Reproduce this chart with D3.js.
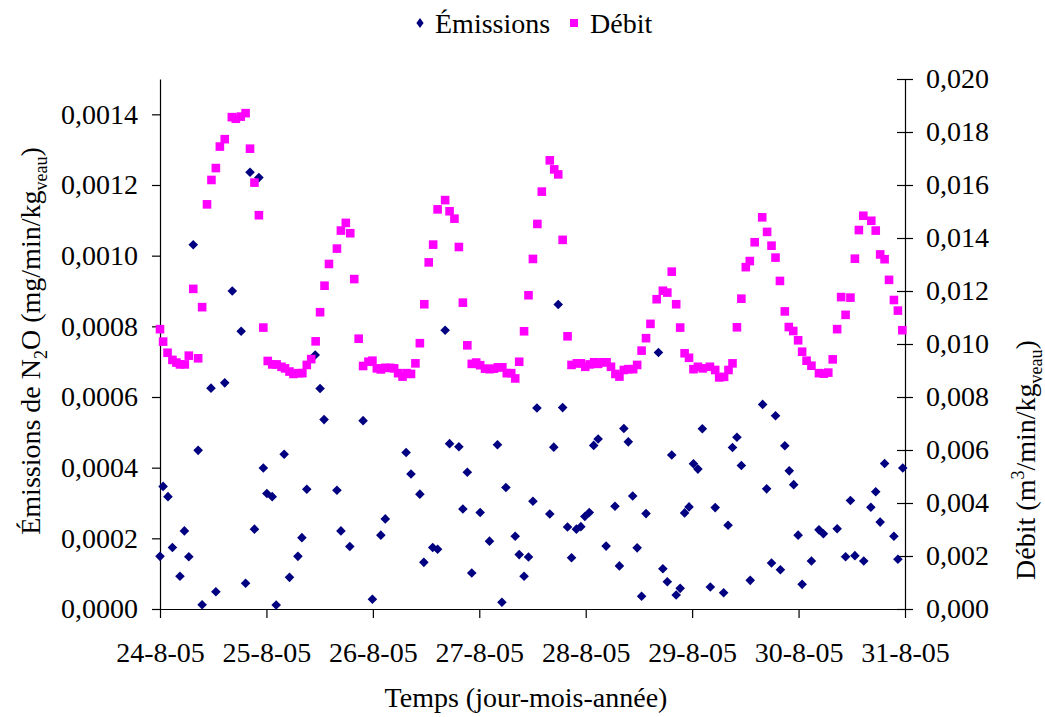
<!DOCTYPE html>
<html>
<head>
<meta charset="utf-8">
<script src="https://cdn.jsdelivr.net/npm/d3@7"></script>
<style>
  html, body { margin: 0; padding: 0; background: #fff; }
  svg { display: block; font-family: "Liberation Serif", "Times New Roman", serif; }
</style>
</head>
<body>
<svg id="chart" width="1045" height="717"></svg>
<script>
// ---- Data (hours since 24-8-05 00:00, value) ----
const emissionsHours = [0,0.7,1.8,2.8,4.5,5.5,6.5,7.5,8.6,9.5,11.5,12.6,14.6,16.3,18.3,19.3,20.3,21.3,22.3,23.3,
  24.1,25.3,26.2,28.0,29.2,31.1,32.0,33.1,35.0,36.1,37.0,39.9,40.8,42.8,45.8,47.9,49.8,50.8,55.5,56.6,
  58.6,59.5,61.5,62.6,64.3,65.3,67.4,68.3,69.3,70.3,72.2,74.3,76.1,77.1,78.0,80.1,81.0,82.1,83.1,84.1,
  85.0,87.9,88.8,89.8,90.8,91.9,92.8,93.9,94.9,95.8,96.8,97.8,98.8,100.6,102.6,103.6,104.6,105.6,106.6,107.6,
  108.6,109.6,112.4,113.4,114.4,115.4,116.4,117.3,118.3,119.3,120.3,121.3,122.3,124.1,125.2,127.1,128.1,129.1,130.1,131.1,
  133.1,135.9,136.8,137.9,138.8,139.9,140.9,141.9,142.9,143.9,144.8,146.9,148.6,149.6,152.7,154.6,155.7,156.7,158.7,160.3,
  161.4,162.4,163.4,165.5,166.4,167.5];
const emissionsValues = [0.000149,0.000347,0.000318,0.000174,0.0000925,0.000221,0.000148,0.001031,0.000449,0.0000122,0.000625,0.000049,0.00064,0.0009,0.000786,0.0000727,0.001236,0.000226,0.001221,0.000399,
  0.000327,0.000318,0.0000113,0.000438,0.0000896,0.000149,0.000202,0.000339,0.000719,0.000624,0.000536,0.000336,0.000221,0.000177,0.000533,0.0000274,0.000209,0.000255,0.000443,0.000382,
  0.000325,0.000132,0.000174,0.000169,0.000789,0.000468,0.000459,0.000283,0.000387,0.000102,0.000273,0.000192,0.000465,0.0000189,0.000344,0.000206,0.000154,0.0000925,0.000147,0.000305,
  0.000569,0.000269,0.000458,0.000862,0.00057,0.000232,0.000145,0.000226,0.000233,0.000262,0.000273,0.000463,0.000481,0.000178,0.000291,0.000122,0.000511,0.000473,0.00032,0.000173,
  0.0000359,0.00027,0.000726,0.000114,0.0000773,0.000436,0.0000396,0.0000585,0.000272,0.000289,0.000411,0.000396,0.00051,0.0000622,0.000287,0.0000462,0.000237,0.000457,0.000486,0.000406,
  0.0000811,0.000579,0.00034,0.00013,0.000547,0.000111,0.000462,0.000391,0.000352,0.000209,0.0000698,0.000136,0.000224,0.000213,0.000227,0.000148,0.000307,0.000151,0.000136,0.000288,
  0.000332,0.000246,0.000412,0.000206,0.000141,0.000399];

const debitHours = [0,0.7,1.7,2.8,3.7,4.5,5.6,6.5,7.5,8.6,9.5,10.6,11.6,12.6,13.5,14.6,16.2,17.1,18.2,19.3,
  20.3,21.3,22.3,23.3,24.3,25.3,26.3,27.4,28.2,29.2,30.1,31.2,32.1,33.1,34.1,35.1,36.1,37.1,38.1,39.9,
  40.8,41.9,42.9,43.8,44.8,45.8,47.0,47.9,48.9,49.8,50.8,51.9,52.8,53.7,54.7,55.6,56.6,57.6,58.6,59.6,
  60.6,61.6,62.6,64.3,65.3,66.4,67.4,68.3,69.3,70.3,71.3,72.2,73.3,74.3,75.3,76.2,77.2,78.2,79.2,80.1,
  81.0,82.1,83.1,84.1,85.1,86.1,87.9,88.9,89.8,90.8,91.9,92.8,94.0,94.9,95.9,96.9,97.9,98.8,99.8,100.7,
  101.7,102.7,103.6,104.6,105.6,106.7,107.6,108.6,109.6,110.6,112.0,113.4,114.4,115.4,116.4,117.3,118.3,119.3,120.3,121.3,
  122.4,124.0,125.2,126.1,127.2,128.2,129.1,130.1,131.1,132.1,133.0,134.1,135.8,136.9,137.9,138.8,139.8,140.9,141.8,142.8,
  143.9,144.8,145.8,146.9,148.6,149.7,150.7,151.7,152.7,153.6,154.6,155.7,156.7,157.6,158.6,160.4,161.4,162.4,163.4,164.4,
  165.5,166.4,167.4];
const debitValues = [0.01056,0.01009,0.00967,0.0094,0.0093,0.00923,0.00923,0.00956,0.01208,0.00946,0.01139,0.01527,0.01619,0.01664,0.01745,0.01773,0.01856,0.0185,0.01858,0.01871,
  0.01737,0.01609,0.01486,0.01062,0.00936,0.00923,0.00923,0.00914,0.00908,0.00896,0.00887,0.0089,0.0089,0.00921,0.00943,0.0101,0.0112,0.0122,0.01302,0.0136,
  0.01428,0.01457,0.01418,0.01245,0.0102,0.00917,0.00933,0.00937,0.00908,0.00904,0.0091,0.0091,0.00908,0.0089,0.00877,0.0089,0.00887,0.00927,0.01003,0.0115,
  0.01308,0.01375,0.01508,0.01543,0.01501,0.01473,0.01366,0.01156,0.00995,0.00925,0.0093,0.0092,0.00907,0.00905,0.00907,0.00912,0.00912,0.0089,0.0089,0.0087,
  0.00933,0.01048,0.01184,0.01321,0.01453,0.01575,0.01693,0.01659,0.0164,0.01393,0.01029,0.00921,0.00927,0.00927,0.00914,0.00923,0.00931,0.00925,0.00931,0.00931,
  0.00914,0.00887,0.00877,0.00902,0.00905,0.00905,0.00921,0.00975,0.01022,0.01076,0.01169,0.01201,0.01194,0.01273,0.0115,0.01062,0.00965,0.00948,0.00905,0.00914,
  0.00908,0.00914,0.00902,0.00874,0.00876,0.00902,0.00927,0.01063,0.01171,0.0129,0.01313,0.01384,0.01478,0.01423,0.01371,0.01326,0.01238,0.01123,0.01064,0.01049,
  0.01014,0.00971,0.00937,0.00918,0.0089,0.00888,0.00892,0.00942,0.01056,0.01177,0.0111,0.01175,0.01322,0.0143,0.01484,0.01465,0.01428,0.01338,0.0132,0.01242,
  0.01166,0.01126,0.01052];

const leftTicks = [0, 0.0002, 0.0004, 0.0006, 0.0008, 0.0010, 0.0012, 0.0014];
const rightTicks = [0, 0.002, 0.004, 0.006, 0.008, 0.010, 0.012, 0.014, 0.016, 0.018, 0.020];
const seriesNames = ["Émissions", "Débit"];
const xTitle = "Temps (jour-mois-année)";

// ---- Setup ----
const start = new Date(2005, 7, 24);
const end = new Date(2005, 7, 31);
const toDate = h => new Date(start.getTime() + h * 3600e3);

const m = { left: 160, right: 905, top: 79, bottom: 609 };
const svg = d3.select("#chart");

const x = d3.scaleTime().domain([start, end]).range([m.left, m.right]);
const yL = d3.scaleLinear().domain([0, 0.0015]).range([m.bottom, m.top]);
const yR = d3.scaleLinear().domain([0, 0.020]).range([m.bottom, m.top]);

const loc = d3.formatLocale({ decimal: ",", thousands: " ", grouping: [3], currency: ["", "€"] });
const fL = loc.format(".4f");
const fR = loc.format(".3f");
const fX = d3.timeFormat("%-d-%-m-%y");

const FS = 28;
const axisColor = "#000";

// Bottom axis
const gx = svg.append("g").attr("transform", `translate(0,${m.bottom})`)
  .call(d3.axisBottom(x).ticks(d3.timeDay.every(1)).tickFormat(fX).tickSizeInner(9).tickSizeOuter(0).tickPadding(24));
// Left axis
const gl = svg.append("g").attr("transform", `translate(${m.left},0)`)
  .call(d3.axisLeft(yL).tickValues(leftTicks).tickFormat(fL).tickSizeInner(8).tickSizeOuter(0).tickPadding(14));
// Right axis
const gr = svg.append("g").attr("transform", `translate(${m.right},0)`)
  .call(d3.axisRight(yR).tickValues(rightTicks).tickFormat(fR).tickSizeInner(8).tickSizeOuter(0).tickPadding(13));
gr.selectAll(".tick line").attr("x1", -8);

[gx, gl, gr].forEach(g => {
  g.select(".domain").attr("stroke", axisColor).attr("stroke-width", 1.2);
  g.selectAll(".tick line").attr("stroke", axisColor).attr("stroke-width", 1.2);
  g.selectAll(".tick text").attr("fill", "#000").style("font-size", FS + "px")
    .style("font-family", '"Liberation Serif", serif');
});

// Markers
const diamond = "M0,-4.8L4.8,0L0,4.8L-4.8,0Z";
const emis = emissionsHours.map((h, i) => ({ t: toDate(h), v: emissionsValues[i] }));
const deb = debitHours.map((h, i) => ({ t: toDate(h), v: debitValues[i] }));

svg.append("g").selectAll("path").data(emis).join("path")
  .attr("d", diamond)
  .attr("transform", d => `translate(${x(d.t)},${yL(d.v)})`)
  .attr("fill", "#000080");

const S = 8.6;
svg.append("g").selectAll("rect").data(deb).join("rect")
  .attr("x", d => x(d.t) - S / 2).attr("y", d => yR(d.v) - S / 2)
  .attr("width", S).attr("height", S)
  .attr("fill", "#FF00FF");

// Legend
const lg = svg.append("g").style("font-size", FS + "px");
lg.append("path").attr("d", "M0,-5L3.6,0L0,5L-3.6,0Z").attr("transform", "translate(420,23)").attr("fill", "#000080");
lg.append("text").attr("x", 435).attr("y", 33).text(seriesNames[0]);
lg.append("rect").attr("x", 570).attr("y", 19).attr("width", 8).attr("height", 8).attr("fill", "#FF00FF");
lg.append("text").attr("x", 590).attr("y", 33).text(seriesNames[1]);

// Axis titles
svg.append("text").attr("x", 526).attr("y", 707).attr("text-anchor", "middle")
  .style("font-size", FS + "px").text(xTitle);

const lt = svg.append("text").attr("transform", "translate(40,341) rotate(-90)")
  .attr("text-anchor", "middle").style("font-size", FS + "px");
lt.append("tspan").text("Émissions de N");
lt.append("tspan").attr("dy", 7).style("font-size", "18px").text("2");
lt.append("tspan").attr("dy", -7).text("O (mg/min/kg");
lt.append("tspan").attr("dy", 7).style("font-size", "18px").text("veau");
lt.append("tspan").attr("dy", -7).text(")");

const rt = svg.append("text").attr("transform", "translate(1035,460) rotate(-90)")
  .attr("text-anchor", "middle").style("font-size", FS + "px");
rt.append("tspan").text("Débit (m");
rt.append("tspan").attr("dy", -11).style("font-size", "18px").text("3");
rt.append("tspan").attr("dy", 11).text("/min/kg");
rt.append("tspan").attr("dy", 7).style("font-size", "18px").text("veau");
rt.append("tspan").attr("dy", -7).text(")");
</script>
</body>
</html>
